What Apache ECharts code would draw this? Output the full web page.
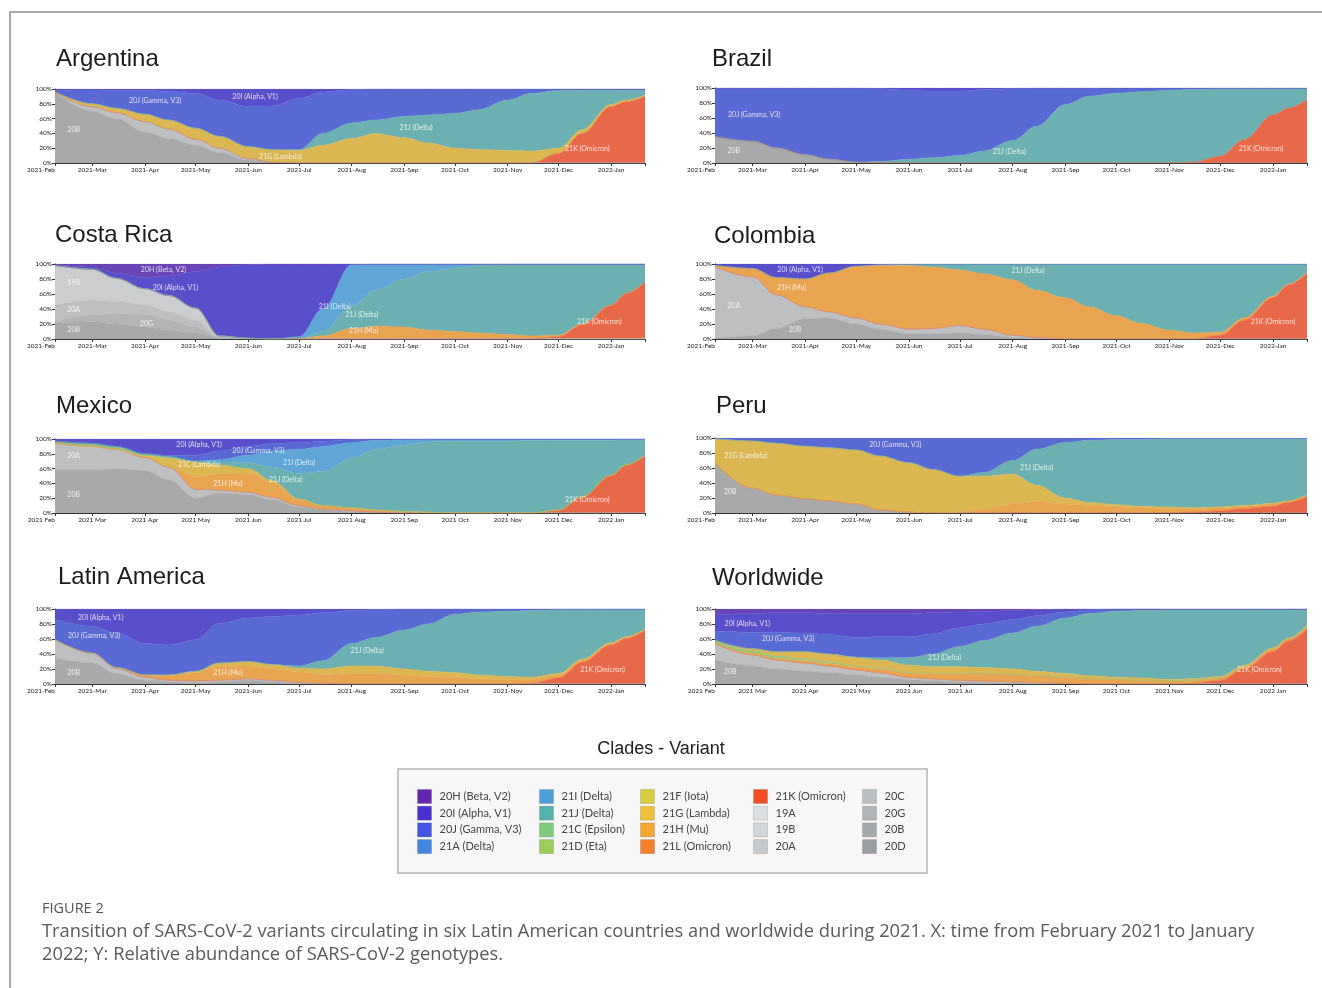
<!DOCTYPE html>
<html>
<head>
<meta charset="utf-8">
<title>SARS-CoV-2 variants in Latin America</title>
<script src="https://cdn.jsdelivr.net/npm/echarts@6/dist/echarts.min.js"></script>
<style>
  html, body { margin: 0; padding: 0; background: #fff; }
  #main { width: 1322px; height: 988px; }
</style>
</head>
<body>
<div id="main"></div>
<script>
// sampling dates shared by all panels
const dates = ['2021-02-07','2021-03-01','2021-03-15','2021-04-01','2021-04-15','2021-05-01',
  '2021-05-15','2021-06-01','2021-06-15','2021-07-01','2021-07-15','2021-08-01',
  '2021-08-15','2021-09-01','2021-09-15','2021-10-01','2021-10-15','2021-11-01',
  '2021-11-15','2021-12-01','2021-12-15','2022-01-01','2022-01-10','2022-01-21']

// relative abundance (%) per clade, bottom of the stack first
const argentina = [
  ['20B', [95,70,60,42,33,24, 14,4,1,0,0,0, 0,0,0,0,0,0, 0,0,0,0,0,0]],
  ['20A', [0,6,8,14,13,8, 6,2,0,0,0,0, 0,0,0,0,0,0, 0,0,0,0,0,0]],
  ['21K (Omicron)', [0,0,0,0,0,0, 0,0,0,0,0,0, 0,0,0,0,0,0, 0,13,40,76,83,90]],
  ['21G (Lambda)', [1,4,6,10,12,15, 16,16,17,17,24,33, 40,34,27,20,18,17, 16,7,5,3,2,2]],
  ['21J (Delta)', [0,0,0,0,0,0, 0,0,0,1,16,21, 18,29,38,47,54,68, 78,78,53,19,13,6]],
  ['20J (Gamma, V3)', [2,18.5,24,32,39,47, 49,54,59,69,56,45, 42,37,35,33,28,15, 6,2,2,2,2,2]],
  ['20I (Alpha, V1)', [2,1.5,2,2,3,6, 15,24,23,13,4,1, 0,0,0,0,0,0, 0,0,0,0,0,0]]
]
const brazil = [
  ['20B', [35,29,20,11,5,1, 0,0,0,0,0,0, 0,0,0,0,0,0, 0,0,0,0,0,0]],
  ['21K (Omicron)', [0,0,0,0,0,0, 0,0,0,0,0,0, 0,0,0,0,0,0, 1,9,31,64,73,85]],
  ['21J (Delta)', [0,0,0,0,0,0, 2,5,7,10,16,30, 49,78,89,93,95,97, 97,90,68,35,26,14]],
  ['20J (Gamma, V3)', [65,71,80,89,95,99, 97,92,89,86,82,69, 51,22,11,7,5,3, 2,1,1,1,1,1]],
  ['20I (Alpha, V1)', [0,0,0,0,0,0, 1,3,4,4,2,1, 0,0,0,0,0,0, 0,0,0,0,0,0]]
]
const costaRica = [
  ['20B', [21,23,20,16,12,8, 1,0,0,0,0,0, 0,0,0,0,0,0, 0,0,0,0,0,0]],
  ['20G', [2,9,14,17,14,8, 1,0,0,0,0,0, 0,0,0,0,0,0, 0,0,0,0,0,0]],
  ['20A', [22,20,16,13,10,9, 1,0,0,0,0,0, 0,0,0,0,0,0, 0,0,0,0,0,0]],
  ['19B', [53,41,31,21,22,16, 1,1,0,0,0,0, 0,0,0,0,0,0, 0,0,0,0,0,0]],
  ['21K (Omicron)', [0,0,0,0,0,0, 0,0,0,0,0,0, 0,0,0,0,0,0, 0,3,19,45,61,76]],
  ['21H (Mu)', [0,0,0,0,0,0, 0,0,0,1,4,14, 17,16,12,10,8,6, 4,2,1,0,0,0]],
  ['21J (Delta)', [0,0,0,0,0,0, 0,0,0,0,6,30, 48,64,78,85,90,94, 96,95,80,55,39,24]],
  ['21I (Delta)', [0,0,0,0,0,0, 0,0,0,2,30,55, 35,20,10,5,2,0, 0,0,0,0,0,0]],
  ['20I (Alpha, V1)', [1,3,7,15,26,49, 92,98,100,97,60,1, 0,0,0,0,0,0, 0,0,0,0,0,0]],
  ['20H (Beta, V2)', [1,4,12,18,16,10, 4,1,0,0,0,0, 0,0,0,0,0,0, 0,0,0,0,0,0]]
]
const colombia = [
  ['20B', [1,4,14,27,28,20, 13,7,7,8,6,2, 1,0,0,0,0,0, 0,0,0,0,0,0]],
  ['20A', [95,79,45,16,8,8, 7,6,7,10,7,3, 1,0,0,0,0,0, 0,0,0,0,0,0]],
  ['21K (Omicron)', [0,0,0,0,0,0, 0,0,0,0,0,0, 0,0,0,0,0,0, 0,5,25,55,72,88]],
  ['21H (Mu)', [2,11,23,37,52,69, 78,85,82,74,74,74, 63,55,43,31,21,12, 8,4,3,2,1,1]],
  ['21J (Delta)', [0,0,0,0,0,0, 1,2,4,8,13,21, 35,45,57,69,79,88, 92,91,72,43,27,11]],
  ['20I (Alpha, V1)', [2,6,18,20,12,3, 1,0,0,0,0,0, 0,0,0,0,0,0, 0,0,0,0,0,0]]
]
const mexico = [
  ['20B', [58,58,60,57,45,20, 27,25,18,8,4,2, 1,0,0,0,0,0, 0,0,0,0,0,0]],
  ['20A', [36,32,26,18,17,12, 4,3,3,2,1,1, 0,0,0,0,0,0, 0,0,0,0,0,0]],
  ['21K (Omicron)', [0,0,0,0,0,0, 0,0,0,0,0,0, 0,0,0,0,0,0, 0,4,22,51,65,78]],
  ['21H (Mu)', [0,0,0,0,0,17, 22,26,20,8,5,4, 3,2,1,0,0,0, 0,0,0,0,0,0]],
  ['21G (Lambda)', [0,0,0,2,12,20, 12,6,3,1,0,0, 0,0,0,0,0,0, 0,0,0,0,0,0]],
  ['21C (Epsilon)', [3,4,4,3,2,0, 0,0,0,0,0,0, 0,0,0,0,0,0, 0,0,0,0,0,0]],
  ['21J (Delta)', [0,0,0,0,0,1, 4,8,18,34,46,67, 82,90,95,97,97,97, 98,94,76,47,34,21]],
  ['21I (Delta)', [0,0,0,0,0,0, 3,10,22,33,34,21, 12,7,4,3,3,3, 2,2,2,2,1,1]],
  ['20J (Gamma, V3)', [0,0,0,0,2,8, 12,12,10,9,7,4, 2,1,0,0,0,0, 0,0,0,0,0,0]],
  ['20I (Alpha, V1)', [3,6,10,20,22,22, 16,10,6,5,3,1, 0,0,0,0,0,0, 0,0,0,0,0,0]]
]
const peru = [
  ['20B', [66,33,24,19,16,12, 4,1,0,0,0,0, 0,0,0,0,0,0, 0,0,0,0,0,0]],
  ['21K (Omicron)', [0,0,0,0,0,0, 0,0,0,0,0,0, 0,0,0,0,0,0, 1,3,6,9,14,22]],
  ['21H (Mu)', [0,0,0,0,0,0, 0,0,0,1,5,12, 15,12,10,8,7,6, 5,4,3,3,2,2]],
  ['21G (Lambda)', [33,63,69,70,71,72, 72,66,58,48,44,40, 22,8,4,3,2,2, 1,1,1,1,0,0]],
  ['21J (Delta)', [0,0,0,0,0,0, 0,0,0,0,5,18, 48,74,83,87,89,91, 92,91,89,86,83,75]],
  ['20J (Gamma, V3)', [1,4,7,11,13,16, 24,33,42,51,46,30, 15,6,3,2,2,1, 1,1,1,1,1,1]]
]
const latinAmerica = [
  ['20B', [35,28,14,5,3,2, 3,5,3,1,0,0, 0,0,0,0,0,0, 0,0,0,0,0,0]],
  ['20A', [24,13,7,4,2,2, 2,2,2,1,1,0, 0,0,0,0,0,0, 0,0,0,0,0,0]],
  ['21K (Omicron)', [0,0,0,0,0,0, 0,0,0,0,0,0, 0,0,0,0,0,0, 1,8,29,52,61,72]],
  ['21H (Mu)', [0,0,1,3,6,11, 18,17,15,14,12,14, 14,12,10,9,7,6, 5,4,3,2,1,1]],
  ['21G (Lambda)', [0,0,0,0,1,2, 5,6,6,5,7,10, 10,8,7,6,5,4, 3,2,1,1,1,0]],
  ['21J (Delta)', [0,0,0,0,0,0, 0,0,0,3,11,30, 38,52,63,78,84,87, 89,85,66,44,36,26]],
  ['20J (Gamma, V3)', [27,36,46,42,40,42, 53,58,64,68,64,44, 37,28,20,7,4,3, 2,1,1,1,1,1]],
  ['20I (Alpha, V1)', [14,23,32,46,48,41, 19,12,10,8,5,2, 1,0,0,0,0,0, 0,0,0,0,0,0]]
]
const worldwide = [
  ['20B', [32,24,20,17,15,12, 9,6,4,3,2,2, 1,1,0,0,0,0, 0,0,0,0,0,0]],
  ['20A', [22,15,12,11,9,7, 6,3,3,2,2,1, 1,0,0,0,0,0, 0,0,0,0,0,0]],
  ['21K (Omicron)', [0,0,0,0,0,0, 0,0,0,0,0,0, 0,0,0,0,0,0, 1,5,20,43,57,73]],
  ['21L (Omicron)', [0,0,0,0,0,0, 0,0,0,0,0,0, 0,0,0,0,0,0, 0,0,1,2,2,3]],
  ['21H (Mu)', [1,2,2,3,3,4, 5,6,7,9,10,10, 9,8,7,6,5,4, 4,3,3,2,1,1]],
  ['21C (Epsilon)', [3,3,3,2,2,1, 1,0,0,0,0,0, 0,0,0,0,0,0, 0,0,0,0,0,0]],
  ['21G (Lambda)', [0,3,6,10,11,11, 11,10,9,9,8,7, 6,5,4,3,3,2, 2,2,1,1,1,1]],
  ['21J (Delta)', [0,0,0,0,0,1, 3,10,17,27,36,48, 60,74,83,88,90,93, 92,89,74,51,38,21]],
  ['20J (Gamma, V3)', [12,22,26,25,26,26, 28,28,27,25,22,18, 14,8,5,3,2,1, 1,1,1,1,1,1]],
  ['20I (Alpha, V1)', [22,25,26,27,28,32, 31,31,28,21,17,12, 8,4,1,0,0,0, 0,0,0,0,0,0]],
  ['20H (Beta, V2)', [8,6,5,5,6,6, 6,6,5,4,3,2, 1,0,0,0,0,0, 0,0,0,0,0,0]]
]

// in-chart clade labels: [text, date, % height]
const argentinaNotes = [['20J (Gamma, V3)','2021-04-07',84],['20I (Alpha, V1)','2021-06-05',90],['20B','2021-02-18',45],
  ['21J (Delta)','2021-09-08',47],['21G (Lambda)','2021-06-20',9],['21K (Omicron)','2021-12-18',19]]
const brazilNotes = [['20J (Gamma, V3)','2021-03-02',65],['20B','2021-02-18',16],['21J (Delta)','2021-07-30',15],
  ['21K (Omicron)','2021-12-25',19]]
const costaRicaNotes = [['20H (Beta, V2)','2021-04-12',93],['20I (Alpha, V1)','2021-04-19',69],['19B','2021-02-18',75],
  ['20A','2021-02-18',39],['20B','2021-02-18',12],['20G','2021-04-02',21],['21I (Delta)','2021-07-22',43],
  ['21J (Delta)','2021-08-07',33],['21H (Mu)','2021-08-08',11],['21K (Omicron)','2021-12-25',23]]
const colombiaNotes = [['20I (Alpha, V1)','2021-03-29',92],['21H (Mu)','2021-03-24',68],['20A','2021-02-18',45],
  ['20B','2021-03-26',12],['21J (Delta)','2021-08-10',91],['21K (Omicron)','2022-01-01',23]]
const mexicoNotes = [['20I (Alpha, V1)','2021-05-03',92],['20J (Gamma, V3)','2021-06-07',84],['20A','2021-02-18',77],
  ['21C (Lambda)','2021-05-03',65],['21I (Delta)','2021-07-01',68],['21H (Mu)','2021-05-20',39],
  ['21J (Delta)','2021-06-23',45],['20B','2021-02-18',24],['21K (Omicron)','2021-12-18',18]]
const peruNotes = [['20J (Gamma, V3)','2021-05-24',91],['21G (Lambda)','2021-02-25',76],['20B','2021-02-16',28],
  ['21J (Delta)','2021-08-15',61]]
const latinAmericaNotes = [['20I (Alpha, V1)','2021-03-06',88],['20J (Gamma, V3)','2021-03-02',65],['20B','2021-02-18',15],
  ['21H (Mu)','2021-05-20',15],['21J (Delta)','2021-08-10',45],['21K (Omicron)','2021-12-27',19]]
const worldwideNotes = [['20I (Alpha, V1)','2021-02-26',80],['20J (Gamma, V3)','2021-03-22',60],['20B','2021-02-16',16],
  ['21J (Delta)','2021-06-22',35],['21K (Omicron)','2021-12-24',19]]

const yTicks = [0, 20, 40, 60, 80, 100]
const monthNames = ['Jan','Feb','Mar','Apr','May','Jun','Jul','Aug','Sep','Oct','Nov','Dec']

// legend columns
const legendCols = [
  ['20H (Beta, V2)', '20I (Alpha, V1)', '20J (Gamma, V3)', '21A (Delta)'],
  ['21I (Delta)', '21J (Delta)', '21C (Epsilon)', '21D (Eta)'],
  ['21F (Iota)', '21G (Lambda)', '21H (Mu)', '21L (Omicron)'],
  ['21K (Omicron)', '19A', '19B', '20A'],
  ['20C', '20G', '20B', '20D']
]

// area colours in the panels
const FILL = {
  '20H (Beta, V2)': '#6a45b5', '20I (Alpha, V1)': '#5a4fca', '20J (Gamma, V3)': '#5a6ad5',
  '21I (Delta)': '#5fa5d8', '21J (Delta)': '#6db0b1', '21C (Epsilon)': '#8ec57c',
  '21G (Lambda)': '#dbb752', '21H (Mu)': '#e8a44f', '21L (Omicron)': '#ee9447', '21K (Omicron)': '#e8694a',
  '19B': '#cbcdcf', '20A': '#bdbfc1', '20G': '#b2b4b6', '20B': '#a7a9ab'
}
// legend swatches are a bit more saturated
const SWATCH = {
  '20H (Beta, V2)': '#6426b0', '20I (Alpha, V1)': '#4c30d2', '20J (Gamma, V3)': '#4355e4', '21A (Delta)': '#4485e2',
  '21I (Delta)': '#4d9fd9', '21J (Delta)': '#52b2ae', '21C (Epsilon)': '#7fcb7a', '21D (Eta)': '#9ccc5c',
  '21F (Iota)': '#d8cd40', '21G (Lambda)': '#efc03c', '21H (Mu)': '#f5a534', '21L (Omicron)': '#f5802c',
  '21K (Omicron)': '#f24e25', '19A': '#dcdfe2', '19B': '#d2d5d8', '20A': '#c7cacd',
  '20C': '#bcbfc2', '20G': '#b1b4b7', '20B': '#a6a9ac', '20D': '#9a9da1'
}

const panels = [
  { name: 'Argentina', rows: argentina, notes: argentinaNotes, title: [56, 47], box: [55, 89, 590, 74], sep: '-' },
  { name: 'Brazil', rows: brazil, notes: brazilNotes, title: [712, 47], box: [715, 88, 592, 75], sep: '-' },
  { name: 'Costa Rica', rows: costaRica, notes: costaRicaNotes, title: [55, 223], box: [55, 264, 590, 75], sep: '-' },
  { name: 'Colombia', rows: colombia, notes: colombiaNotes, title: [714, 224], box: [715, 264, 592, 75], sep: '-' },
  { name: 'Mexico', rows: mexico, notes: mexicoNotes, title: [56, 394], box: [55, 439, 590, 74], sep: ' ' },
  { name: 'Peru', rows: peru, notes: peruNotes, title: [716, 394], box: [715, 438, 592, 75], sep: '-' },
  { name: 'Latin America', rows: latinAmerica, notes: latinAmericaNotes, title: [58, 565], box: [55, 609, 590, 75], sep: '-' },
  { name: 'Worldwide', rows: worldwide, notes: worldwideNotes, title: [712, 566], box: [715, 609, 592, 75], sep: ' ' }
]

// one category per day over the plotted range, so the axis is linear in time
const DAY = 86400000
function ts(s) {
  const p = s.split('-').map(Number)
  return Date.UTC(p[0], p[1] - 1, p[2])
}
const days = []
for (let t = ts(dates[0]); t <= ts(dates[dates.length - 1]); t += DAY) {
  days.push(new Date(t).toISOString().slice(0, 10))
}
const lastDay = days.length - 1
const isTick = (idx, d) => idx === 0 || idx === lastDay || d.slice(8) === '01'
const isLabel = (idx, d) => idx === 0 || d.slice(8) === '01'

const grid = [], xAxis = [], yAxis = [], series = [], title = []
const used = new Set()

panels.forEach((p, i) => {
  grid.push({ left: p.box[0], top: p.box[1], width: p.box[2], height: p.box[3] })
  title.push({
    text: p.name, left: p.title[0], top: p.title[1], padding: 0,
    textStyle: { fontFamily: 'Liberation Sans', fontSize: 24, fontWeight: 'normal', color: '#1b1b1b' }
  })
  xAxis.push({
    type: 'category', gridIndex: i, data: days, boundaryGap: false,
    axisLine: { lineStyle: { color: '#333', width: 1 } },
    axisTick: { length: 3, lineStyle: { color: '#333' }, interval: isTick },
    splitLine: { show: false },
    axisLabel: {
      fontSize: 6.5, fontFamily: 'Lato', color: '#222', margin: 3,
      interval: isLabel, alignMinLabel: 'right', hideOverlap: false,
      formatter: d => d.slice(0, 4) + p.sep + monthNames[+d.slice(5, 7) - 1]
    }
  })
  yAxis.push({
    type: 'value', gridIndex: i, min: yTicks[0], max: yTicks[yTicks.length - 1], interval: yTicks[1] - yTicks[0],
    axisLine: { show: true, lineStyle: { color: '#333', width: 1 } },
    axisTick: { show: true, length: 3, lineStyle: { color: '#333' } },
    splitLine: { show: false },
    axisLabel: { fontSize: 6.5, fontFamily: 'Lato', color: '#222', margin: 3, formatter: '{value}%' }
  })
  // shares -> relative abundance per date
  const totals = dates.map((_, k) => p.rows.reduce((s, r) => s + r[1][k], 0))
  p.rows.forEach(([name, vals]) => {
    used.add(name)
    series.push({
      type: 'line', name: name, xAxisIndex: i, yAxisIndex: i, stack: 'panel' + i,
      smooth: 0.35, smoothMonotone: 'x', symbol: 'none', silent: true,
      lineStyle: { width: 0.6, color: FILL[name] },
      itemStyle: { color: FILL[name] },
      areaStyle: { color: FILL[name], opacity: 1 },
      data: dates.map((d, k) => [d, vals[k] / totals[k] * 100])
    })
  })
  // clade labels
  series.push({
    type: 'scatter', xAxisIndex: i, yAxisIndex: i, symbolSize: 1, silent: true, z: 5,
    itemStyle: { color: 'transparent' },
    label: { show: true, position: 'inside', formatter: '{b}', color: '#fff', fontSize: 7, fontFamily: 'Lato' },
    labelLayout: { hideOverlap: false },
    data: p.notes.map(n => ({ name: n[0], value: [n[1], n[2]] }))
  })
})

// clades that only appear in the legend
legendCols.flat().forEach(name => {
  if (!used.has(name)) series.push({ type: 'line', name: name, xAxisIndex: 0, yAxisIndex: 0, data: [] })
})

title.push({
  text: 'Clades - Variant', left: 'center', top: 740, padding: 0,
  textStyle: { fontFamily: 'Liberation Sans', fontSize: 18, fontWeight: 'normal', color: '#222' }
})

const legendX = [417, 539, 640, 753, 862]
const legend = legendCols.map((col, c) => ({
  orient: 'vertical', left: legendX[c], top: 789, padding: 0,
  itemWidth: 14, itemHeight: 14, itemGap: 1.7, icon: 'rect', selectedMode: false,
  textStyle: { fontFamily: 'Lato', fontSize: 11, color: '#444', padding: [0, 0, 0, 3] },
  data: col.map(n => ({ name: n, itemStyle: { color: SWATCH[n], borderColor: 'rgba(0,0,0,0.12)', borderWidth: 1 } }))
}))

const chart = echarts.init(document.getElementById('main'))
chart.setOption({
  animation: false,
  backgroundColor: '#fff',
  title: title,
  legend: legend,
  grid: grid,
  xAxis: xAxis,
  yAxis: yAxis,
  series: series,
  graphic: [
    { type: 'polyline', silent: true, shape: { points: [[10, 988], [10, 12], [1322, 12]] },
      style: { stroke: '#8c8c8c', lineWidth: 1.5, fill: null } },
    { type: 'rect', silent: true, z: 0, shape: { x: 398, y: 769, width: 529, height: 104 },
      style: { fill: '#f7f7f7', stroke: '#c6c6c6', lineWidth: 2 } },
    { type: 'text', x: 42, y: 909, silent: true,
      style: { text: 'FIGURE 2', fontSize: 14.5, fontFamily: 'Open Sans', fill: '#555', verticalAlign: 'middle' } },
    { type: 'text', x: 42, y: 932, silent: true,
      style: { text: 'Transition of SARS-CoV-2 variants circulating in six Latin American countries and worldwide during 2021. X: time from February 2021 to January',
        fontSize: 18.3, fontFamily: 'Open Sans', fill: '#5a5a5a', verticalAlign: 'middle' } },
    { type: 'text', x: 42, y: 955, silent: true,
      style: { text: '2022; Y: Relative abundance of SARS-CoV-2 genotypes.',
        fontSize: 18.3, fontFamily: 'Open Sans', fill: '#5a5a5a', verticalAlign: 'middle' } }
  ]
})
</script>
</body>
</html>
